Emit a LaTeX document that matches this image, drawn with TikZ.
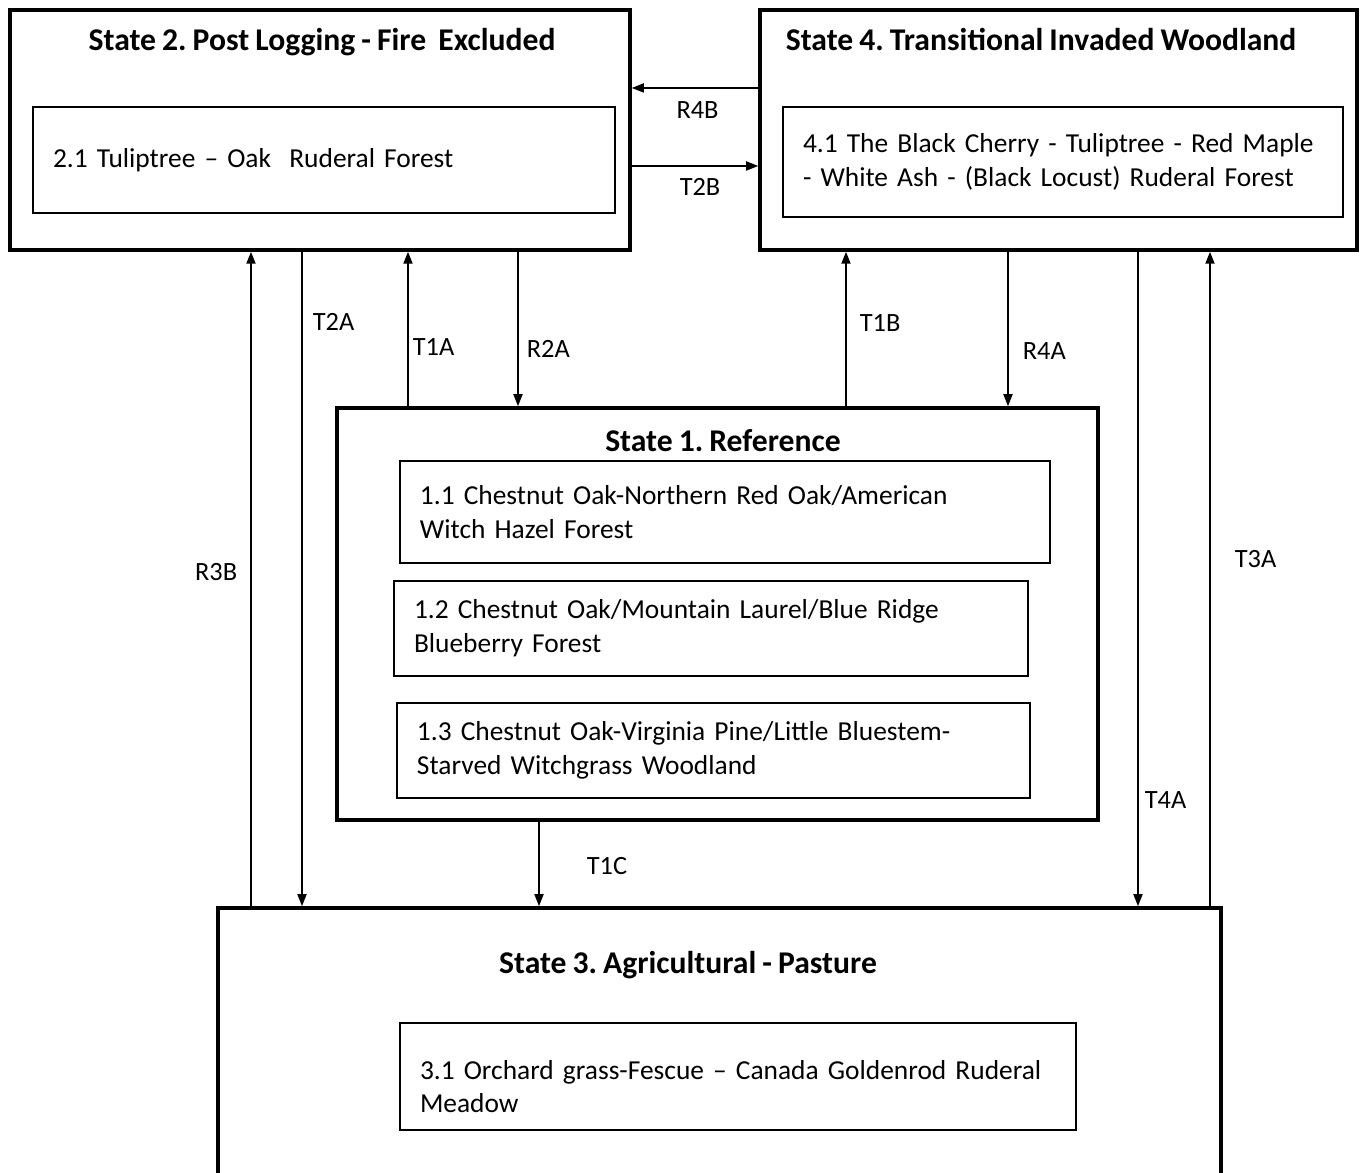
\documentclass[tikz,border=0pt]{standalone}
\usepackage{fontspec}
\setmainfont{Carlito}[WordSpace=0.85]
\frenchspacing
\hyphenpenalty=10000
\usetikzlibrary{positioning,arrows.meta}

\begin{document}
\begin{tikzpicture}[
    state/.style={draw, line width=1pt, inner sep=0pt},
    title/.style={font=\fontsize{9}{11}\selectfont\bfseries},
    sub/.style={draw, line width=0.6pt, align=left, inner xsep=0.2cm, font=\fontsize{7.8}{9.6}\selectfont},
    arr/.style={-{Triangle[length=0.12cm, width=0.09cm]}, line width=0.5pt},
    lbl/.style={font=\fontsize{7.5}{9}\selectfont, inner sep=0pt}
]
\useasboundingbox (0,0) rectangle (13.61,-11.73);
\clip (0,0) rectangle (13.61,-11.73);

% states
\node[state, minimum width=6.20cm, minimum height=2.40cm] (s2) at (3.20,-1.30) {};
\node[state, minimum width=5.97cm, minimum height=2.40cm] (s4) at (10.585,-1.30) {};
\node[state, minimum width=7.61cm, minimum height=4.12cm] (s1) at (7.175,-6.14) {};
\node[state, minimum width=10.03cm, minimum height=2.92cm] (s3) at (7.195,-10.54) {};

\node[title] (t2) at (3.22,-0.42) {State 2. Post Logging - Fire\ \ Excluded};
\node[title] (t4) at (10.41,-0.40) {State 4. Transitional Invaded Woodland};
\node[title] (t1) at (7.23,-4.41) {State 1. Reference};
\node[title] (t3) at (6.88,-9.65) {State 3. Agricultural - Pasture};

% communities
\node[sub, text width=5.42cm, minimum height=1.06cm] (b21) at (3.24,-1.60) {2.1 Tuliptree -- Oak\ \ Ruderal Forest};
\node[sub, text width=5.20cm, minimum height=1.10cm] (b41) at (10.63,-1.62) {4.1 The Black Cherry - Tuliptree - Red Maple\\- White Ash - (Black Locust) Ruderal Forest};
\node[sub, text width=6.10cm, minimum height=1.02cm] (b11) at (7.25,-5.12) {1.1 Chestnut Oak-Northern Red Oak/American\\Witch Hazel Forest};
\node[sub, text width=5.94cm, minimum height=0.95cm] (b12) at (7.11,-6.285) {1.2 Chestnut Oak/Mountain Laurel/Blue Ridge\\Blueberry Forest};
\node[sub, text width=5.93cm, minimum height=0.95cm] (b13) at (7.135,-7.505) {1.3 Chestnut Oak-Virginia Pine/Little Bluestem-\\Starved Witchgrass Woodland};
\node[sub, text width=6.36cm, minimum height=1.07cm] (b31) at (7.38,-10.765) {\rule{0pt}{0.39cm}3.1 Orchard grass-Fescue -- Canada Goldenrod Ruderal\\Meadow};

% lanes of the vertical arrows
\foreach \n/\x in {r3b/2.51, t2a/3.02, t1a/4.08, r2a/5.18, t1c/5.39, t1b/8.46, r4a/10.08, t4a/11.38, t3a/12.10}
    \coordinate (\n) at (\x,0);

% transitions
\draw[arr] ([yshift=0.42cm]s4.west) -- ([yshift=0.42cm]s2.east) node[lbl, pos=0.48, below=0.13cm] {R4B};
\draw[arr] ([yshift=-0.36cm]s2.east) -- ([yshift=-0.36cm]s4.west) node[lbl, pos=0.54, below=0.12cm] {T2B};
\draw[arr] (s3.north -| r3b) -- (s2.south -| r3b) node[lbl, pos=0.51, left=0.13cm] {R3B};
\draw[arr] (s2.south -| t2a) -- (s3.north -| t2a) node[lbl, pos=0.108, right=0.10cm] {T2A};
\draw[arr] (s1.north -| t1a) -- (s2.south -| t1a) node[lbl, pos=0.386, right=0.04cm] {T1A};
\draw[arr] (s2.south -| r2a) -- (s1.north -| r2a) node[lbl, pos=0.63, right=0.08cm] {R2A};
\draw[arr] (s1.north -| t1b) -- (s4.south -| t1b) node[lbl, pos=0.54, right=0.13cm] {T1B};
\draw[arr] (s4.south -| r4a) -- (s1.north -| r4a) node[lbl, pos=0.64, right=0.14cm] {R4A};
\draw[arr] (s4.south -| t4a) -- (s3.north -| t4a) node[lbl, pos=0.837, right=0.06cm] {T4A};
\draw[arr] (s3.north -| t3a) -- (s4.south -| t3a) node[lbl, pos=0.53, right=0.24cm] {T3A};
\draw[arr] (s1.south -| t1c) -- (s3.north -| t1c) node[lbl, pos=0.53, right=0.47cm] {T1C};
\end{tikzpicture}
\end{document}
